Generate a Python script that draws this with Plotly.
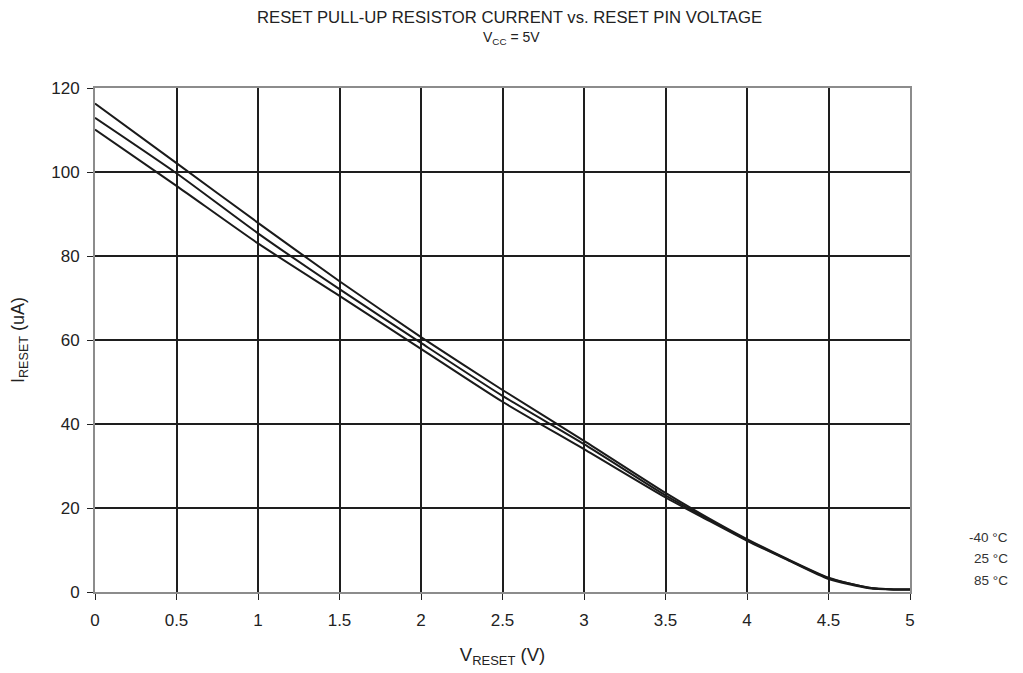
import plotly.graph_objects as go

v_reset = [0.0, 0.5, 1.0, 1.5, 2.0, 2.5, 3.0, 3.5, 3.75, 4.0, 4.25, 4.5, 4.75, 4.9, 5.0]
i_m40 = [116.3, 102.1, 87.9, 74.0, 60.7, 48.1, 36.0, 23.6, 17.9, 12.6, 7.8, 3.4, 1.0, 0.6, 0.6]
i_25 = [112.9, 99.7, 85.4, 72.1, 59.3, 46.7, 35.2, 23.0, 17.6, 12.4, 7.7, 3.3, 1.0, 0.6, 0.6]
i_85 = [110.1, 96.7, 83.0, 70.5, 57.9, 45.3, 34.0, 22.5, 17.3, 12.2, 7.6, 3.1, 0.9, 0.6, 0.6]
labels = ["-40 °C", "25 °C", "85 °C"]

# page has an 8px body margin; plot area in page pixels
PL, PR, PT, PB = 95, 910, 88, 592
W, H = 1015, 665
OFF = 8


def px(X):
    return (X - PL) / (PR - PL)


def py(Y):
    return (PB - Y) / (PB - PT)


fig = go.Figure()
for ys, name in zip([i_m40, i_25, i_85], labels):
    fig.add_trace(go.Scatter(x=v_reset, y=ys, mode="lines", name=name,
                             line=dict(color="#1a1a1a", width=2, shape="spline", smoothing=0.6),
                             showlegend=False))

for k, name in enumerate(labels):
    fig.add_annotation(x=px(1010), y=py(537 + 21.5 * k), xref="paper", yref="paper", text=name,
                       showarrow=False, xanchor="right", yanchor="middle",
                       font=dict(size=13.5, color="#333333"))

fig.add_annotation(x=px(510), y=py(17), xref="paper", yref="paper",
                   text="RESET PULL-UP RESISTOR CURRENT vs. RESET PIN VOLTAGE",
                   showarrow=False, xanchor="center", yanchor="middle",
                   font=dict(size=16.7, color="#222222"))
fig.add_annotation(x=px(511), y=py(38), xref="paper", yref="paper",
                   text="V<sub>CC</sub> = 5V",
                   showarrow=False, xanchor="center", yanchor="middle",
                   font=dict(size=14, color="#222222"))

fig.update_layout(
    width=W, height=H,
    margin=dict(l=PL - OFF, r=W - (PR - OFF), t=PT - OFF, b=H - (PB - OFF)),
    paper_bgcolor="white", plot_bgcolor="white",
    font=dict(family="Liberation Sans, Arial, sans-serif", color="#222222"),
    xaxis=dict(range=[0, 5], dtick=0.5, tick0=0, showgrid=True, gridcolor="#1e1e1e", gridwidth=2,
               showline=True, linecolor="#8c8c8c", linewidth=2, mirror=True,
               ticks="outside", ticklen=6, tickcolor="#222222", zeroline=False,
               ticklabelstandoff=6, automargin=False,
               tickfont=dict(size=17),
               title=dict(text="V<sub>RESET</sub> (V)", font=dict(size=18.5), standoff=19)),
    yaxis=dict(range=[0, 120], dtick=20, showgrid=True, gridcolor="#1e1e1e", gridwidth=2,
               showline=True, linecolor="#8c8c8c", linewidth=2, mirror=True,
               ticks="outside", ticklen=6, tickcolor="#222222", zeroline=False,
               ticklabelstandoff=4, automargin=False,
               tickfont=dict(size=17),
               title=dict(text="I<sub>RESET</sub> (uA)", font=dict(size=18), standoff=22)),
)

fig.write_html("out.html")
